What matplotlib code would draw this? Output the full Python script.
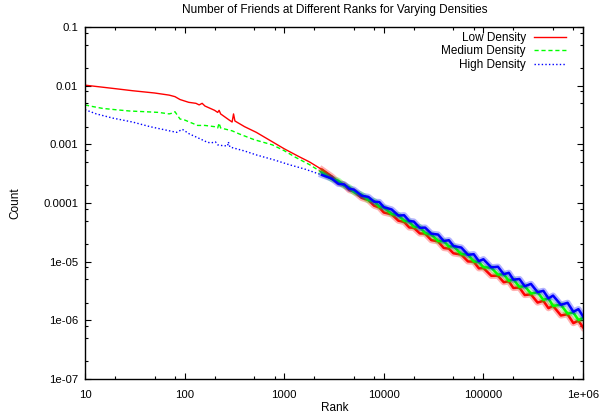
import matplotlib
matplotlib.use('Agg')
import matplotlib.pyplot as plt
from matplotlib.ticker import FixedLocator, NullFormatter

plt.rcParams['font.family'] = ['Liberation Sans', 'DejaVu Sans']

# --- data ---
# low-rank part (differs per series, has the small spikes)
low_rank = [10, 20, 30, 50, 70, 80, 90, 110, 130, 140, 150, 160, 200, 215, 222, 230,
            280, 300, 310, 320, 400, 525, 700, 1000, 1400, 1800, 2400]
low_count = [0.0102, 0.0089, 0.0082, 0.0075, 0.0069, 0.0065, 0.0058, 0.0052, 0.0050, 0.0047,
             0.0050, 0.0045, 0.0038, 0.0035, 0.0038, 0.0033, 0.0026, 0.0024, 0.0033, 0.0025,
             0.0020, 0.0016, 0.0012, 0.00084, 0.00062, 0.00050, 0.00037]

med_rank = [10, 12, 15, 20, 28, 40, 55, 70, 75, 80, 85, 90, 100, 135, 160, 200, 215, 222,
            230, 300, 355, 500, 760, 1000, 1300, 1800, 2400]
med_count = [0.0047, 0.0044, 0.0041, 0.0039, 0.0037, 0.0036, 0.0035, 0.0033, 0.0034, 0.0036,
             0.0031, 0.0027, 0.0026, 0.0021, 0.0021, 0.0020, 0.0019, 0.0023, 0.0019, 0.0017,
             0.0015, 0.0012, 0.00098, 0.00078, 0.00060, 0.00045, 0.00033]

high_rank = [10, 13, 19, 30, 45, 60, 83, 95, 112, 135, 170, 185, 204, 215, 240, 270, 275,
             285, 400, 525, 800, 1122, 1600, 2400]
high_count = [0.0039, 0.0033, 0.0028, 0.0024, 0.0020, 0.0018, 0.0016, 0.0018, 0.0015, 0.0013,
              0.00108, 0.00106, 0.0011, 0.00098, 0.00095, 0.00094, 0.0011, 0.00090, 0.00077,
              0.00066, 0.00054, 0.00045, 0.00038, 0.00030]

# noisy power-law tail (shared ranks)
tail_rank = [3000, 3500, 4000, 4500, 5000, 6000, 7000, 8000, 9000, 10000,
             12000, 14000, 16000, 18000, 20000, 23000, 26000, 30000, 35000, 40000,
             45000, 50000, 60000, 70000, 80000, 90000, 100000, 120000, 140000, 160000,
             180000, 200000, 230000, 260000, 300000, 350000, 400000, 450000, 500000, 600000,
             700000, 800000, 900000, 1000000]
low_tail = [2.84e-4, 2.24e-4, 2.05e-4, 1.66e-4, 1.58e-4, 1.22e-4, 1.12e-4, 9.0e-5, 8.4e-5, 6.9e-5,
            6.4e-5, 5.0e-5, 4.76e-5, 3.83e-5, 3.78e-5, 3.03e-5, 3.01e-5, 2.33e-5, 2.22e-5, 1.71e-5,
            1.67e-5, 1.39e-5, 1.32e-5, 1.01e-5, 1.0e-5, 7.7e-6, 7.8e-6, 5.74e-6, 5.75e-6, 4.46e-6,
            4.62e-6, 3.56e-6, 3.61e-6, 2.70e-6, 2.77e-6, 2.01e-6, 2.15e-6, 1.61e-6, 1.77e-6, 1.21e-6,
            1.27e-6, 8.97e-7, 9.86e-7, 7.6e-7]
med_tail = [2.57e-4, 2.39e-4, 1.96e-4, 1.85e-4, 1.54e-4, 1.38e-4, 1.12e-4, 1.08e-4, 8.65e-5, 8.4e-5,
            6.5e-5, 6.2e-5, 4.98e-5, 4.82e-5, 3.92e-5, 3.88e-5, 3.07e-5, 2.90e-5, 2.25e-5, 2.24e-5,
            1.81e-5, 1.83e-5, 1.35e-5, 1.32e-5, 1.01e-5, 9.9e-6, 8.04e-6, 7.89e-6, 6.01e-6, 6.10e-6,
            4.71e-6, 5.01e-6, 3.70e-6, 3.84e-6, 2.86e-6, 3.01e-6, 2.24e-6, 2.36e-6, 1.76e-6, 1.85e-6,
            1.30e-6, 1.36e-6, 1.01e-6, 1.10e-6]
high_tail = [2.61e-4, 2.12e-4, 2.07e-4, 1.75e-4, 1.69e-4, 1.33e-4, 1.27e-4, 1.05e-4, 1.04e-4, 8.5e-5,
             7.76e-5, 6.11e-5, 6.18e-5, 4.93e-5, 4.83e-5, 3.77e-5, 3.81e-5, 3.00e-5, 2.90e-5, 2.25e-5,
             2.32e-5, 1.85e-5, 1.74e-5, 1.31e-5, 1.34e-5, 1.02e-5, 1.10e-5, 8.0e-6, 8.2e-6, 6.11e-6,
             6.46e-6, 4.94e-6, 5.06e-6, 3.81e-6, 4.18e-6, 3.02e-6, 3.18e-6, 2.36e-6, 2.64e-6, 1.84e-6,
             1.99e-6, 1.40e-6, 1.55e-6, 1.17e-6]

x_ticks = [10, 100, 1000, 10000, 100000, 1000000]
x_tick_labels = ['10', '100', '1000', '10000', '100000', '1e+06']
y_ticks = [1e-7, 1e-6, 1e-5, 1e-4, 1e-3, 1e-2, 1e-1]
y_tick_labels = ['1e-07', '1e-06', '1e-05', '0.0001', '0.001', '0.01', '0.1']

series = [
    ('Low Density', low_rank, low_count, '#ff0000', '-'),
    ('Medium Density', med_rank, med_count, '#00ff00', (0, (3, 2))),
    ('High Density', high_rank, high_count, '#0000ff', (0, (1, 1.6))),
]
tails = [low_tail, med_tail, high_tail]

fig = plt.figure(figsize=(6, 4.16), dpi=100)
ax = fig.add_axes([85 / 600, 37 / 416, 498 / 600, 352 / 416])

for (label, r, c, color, ls), tail in zip(series, tails):
    ax.plot(r + tail_rank[:1], c + tail[:1], color=color, ls=ls, lw=1, label=label)
# the dense noisy tail: soft fringe + solid core
for (label, r, c, color, ls), tail in zip(series, tails):
    ax.plot(r[-1:] + tail_rank, c[-1:] + tail, color=color, lw=4.5, alpha=0.3)
    ax.plot(r[-1:] + tail_rank, c[-1:] + tail, color=color, lw=1.8)

ax.set_xscale('log')
ax.set_yscale('log')
ax.set_xlim(10, 1e6)
ax.set_ylim(1e-7, 0.1)

ax.set_xticks(x_ticks, labels=x_tick_labels)
ax.set_yticks(y_ticks, labels=y_tick_labels)
minor_x = [m * 10 ** e for e in range(1, 6) for m in (2, 5, 8)]
minor_y = [m * 10.0 ** e for e in range(-7, -1) for m in (2, 5, 8)]
ax.xaxis.set_minor_locator(FixedLocator(minor_x))
ax.yaxis.set_minor_locator(FixedLocator(minor_y))
ax.xaxis.set_minor_formatter(NullFormatter())
ax.yaxis.set_minor_formatter(NullFormatter())
ax.tick_params(which='both', direction='in', top=True, right=True, labelsize=8.2, width=0.8)
ax.tick_params(which='major', length=4)
ax.tick_params(which='minor', length=2)
ax.tick_params(axis='x', pad=8)
ax.tick_params(axis='y', pad=5)
for s in ax.spines.values():
    s.set_linewidth(1)

fig.text(335 / 600, 1 - 10 / 416, 'Number of Friends at Different Ranks for Varying Densities',
         ha='center', va='center', fontsize=8.5)
fig.text(335 / 600, 1 - 408 / 416, 'Rank', ha='center', va='center', fontsize=8.5)
fig.text(15 / 600, 1 - 203 / 416, 'Count', ha='center', va='center', rotation=90, fontsize=8.5)

ax.legend(loc='upper right', bbox_to_anchor=(0.966, 0.985), frameon=False, markerfirst=False,
          fontsize=8.5, handlelength=2.7, handletextpad=0.7, labelspacing=0.1,
          borderpad=0, borderaxespad=0)

fig.savefig('out.png', dpi=100)
